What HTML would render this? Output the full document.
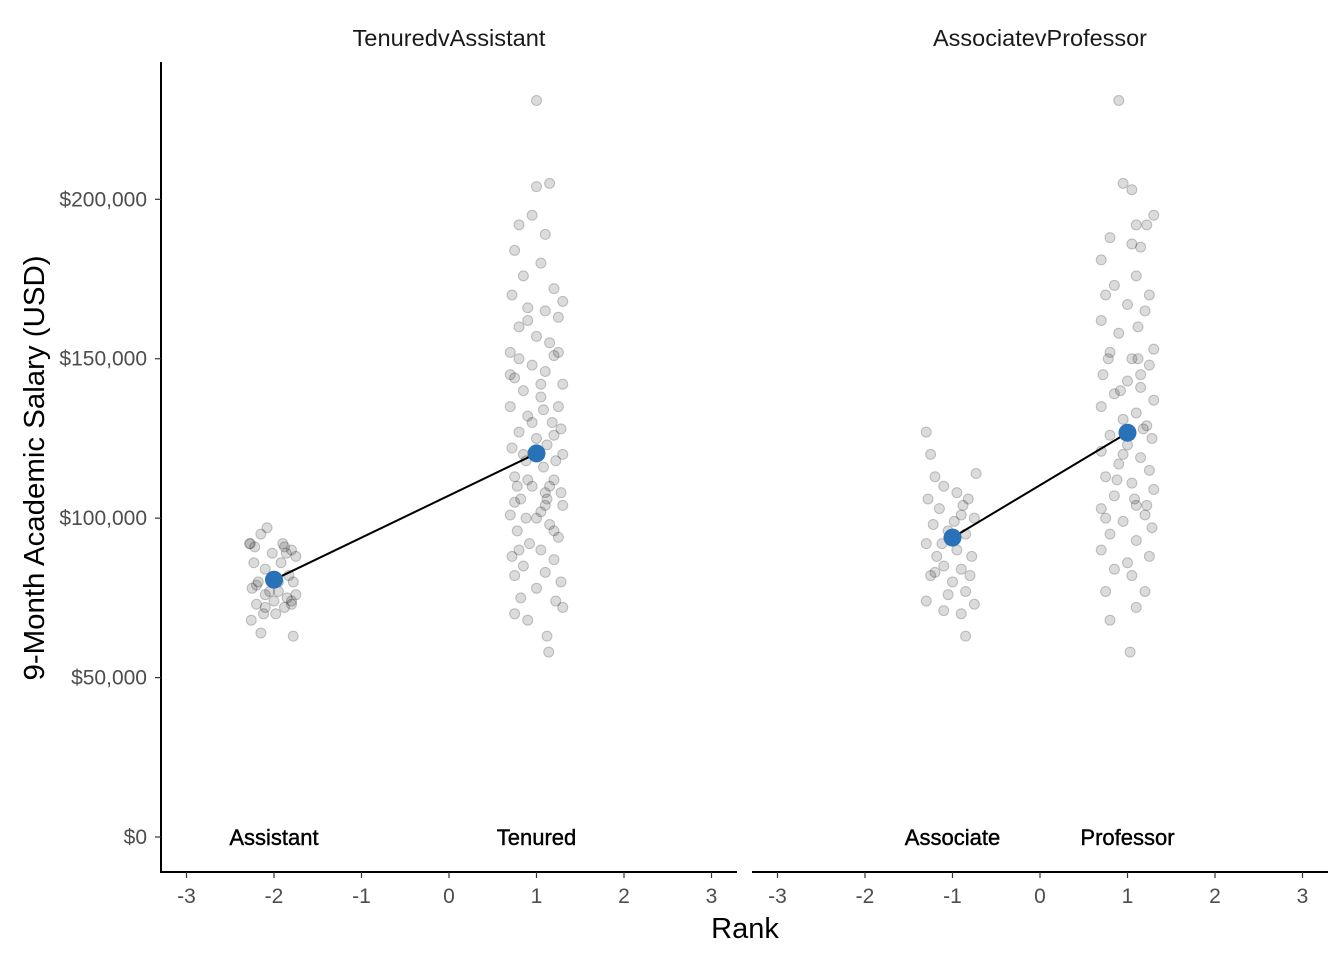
<!DOCTYPE html>
<html><head><meta charset="utf-8"><style>
body{margin:0;background:#fff;}
svg{display:block;font-family:"Liberation Sans",Arial,sans-serif;}
</style></head><body>
<svg id="chart" width="1344" height="960">
<text x="449" y="46" font-size="23" text-anchor="middle" fill="#1a1a1a" textLength="193" lengthAdjust="spacingAndGlyphs">TenuredvAssistant</text>
<text x="1040" y="46" font-size="23" text-anchor="middle" fill="#1a1a1a" textLength="214" lengthAdjust="spacingAndGlyphs">AssociatevProfessor</text>
<text transform="translate(44,468) rotate(-90)" font-size="29" text-anchor="middle" fill="#000" textLength="425" lengthAdjust="spacingAndGlyphs">9-Month Academic Salary (USD)</text>
<text x="745" y="938" font-size="29" text-anchor="middle" fill="#000">Rank</text>
<g id="layer"></g>
</svg>
<script>
const yTicks=[0,50000,100000,150000,200000];
const yTickLabels=["$0","$50,000","$100,000","$150,000","$200,000"];
const xTicks=[-3,-2,-1,0,1,2,3];
const panels=["TenuredvAssistant","AssociatevProfessor"];
const groupNames=[["Assistant","Tenured"],["Associate","Professor"]];
const groupX=[[-2,1],[-1,1]];
const groupMeans=[[80700,120300],[93900,126800]];
// jittered points: [x offset, salary in $k]
const assistantPts=[[-0.28,92],[-0.22,91],[-0.15,95],[-0.08,97],[0.1,92],[0.2,90],[0.25,88],[-0.25,78],[-0.18,80],[-0.1,84],[0.05,80],[0.15,75],[0.22,80],[-0.2,73],[-0.12,70],[0,74],[0.12,72],[0.2,73],[-0.26,68],[-0.15,64],[0.22,63],[-0.05,77],[0.08,86],[-0.02,89],[0.17,82],[-0.23,86],[0.02,70],[-0.1,76],[0.14,89],[0.25,76],[-0.27,92],[0.12,91],[-0.2,79],[0.05,77],[0.2,74],[-0.1,72]];
const tenuredPts=[[0,231],[0,204],[0.15,205],[-0.05,195],[-0.2,192],[0.1,189],[-0.25,184],[0.05,180],[0.2,172],[0.3,168],[-0.15,176],[-0.28,170],[0.1,165],[-0.1,166],[0.25,163],[-0.2,160],[0,157],[0.15,155],[-0.3,152],[0.2,151],[-0.05,148],[0.1,146],[-0.25,144],[0.3,142],[-0.15,140],[0.05,138],[0.25,135],[-0.3,135],[-0.1,132],[0.18,130],[0.28,128],[-0.2,127],[0,125],[0.12,123],[-0.28,122],[0.3,120],[-0.12,118],[0.08,116],[-0.25,113],[0.2,112],[-0.05,110],[0.28,108],[-0.18,106],[0.1,104],[0.3,104],[-0.3,101],[0,100],[0.15,98],[-0.22,96],[0.25,94],[-0.08,92],[0.05,90],[-0.28,88],[0.2,87],[-0.15,85],[0.1,83],[-0.25,82],[0.28,80],[0,78],[-0.18,75],[0.22,74],[-0.25,70],[0.3,72],[-0.1,68],[0.12,63],[0.14,58],[-0.1,112],[0.05,142],[-0.05,130],[0.2,96],[-0.2,150],[0.1,108],[-0.15,120],[0.22,118],[-0.25,105],[0.05,102],[-0.12,100],[0.15,110],[-0.2,90],[0.25,152],[-0.3,145],[0.08,134],[-0.1,162],[0.2,126],[-0.22,110],[0.12,106]];
const associatePts=[[-0.3,127],[-0.25,120],[0.27,114],[-0.2,113],[-0.1,110],[0.05,108],[0.18,106],[-0.28,106],[-0.15,103],[0.1,101],[0.25,100],[-0.22,98],[-0.05,96],[0.15,95],[-0.3,92],[0.05,90],[0.22,88],[-0.18,88],[-0.1,85],[0.1,84],[-0.25,82],[0.2,82],[0,80],[0.15,77],[-0.05,76],[-0.3,74],[0.25,73],[-0.1,71],[0.1,70],[0.15,63],[-0.2,83],[0.12,104],[-0.12,92],[0.02,99]];
const professorPts=[[-0.1,231],[-0.05,205],[0.05,203],[0.3,195],[0.1,192],[0.22,192],[-0.2,188],[0.05,186],[0.15,185],[-0.3,181],[-0.15,173],[0.1,176],[0.25,170],[-0.25,170],[0,167],[0.2,165],[-0.3,162],[0.12,160],[-0.1,158],[0.3,153],[-0.2,152],[0.05,150],[0.25,148],[-0.28,145],[0,143],[0.15,141],[-0.15,139],[0.3,137],[-0.3,135],[0.1,133],[-0.05,131],[0.22,129],[-0.2,126],[0.28,125],[0,123],[-0.3,121],[0.15,119],[-0.1,117],[0.25,115],[-0.25,113],[0.05,111],[0.3,109],[-0.15,107],[0.1,104],[-0.3,103],[0.2,101],[-0.05,99],[0.28,97],[-0.2,95],[0.1,93],[-0.3,90],[0.25,88],[0,86],[-0.15,84],[0.05,82],[-0.25,77],[0.2,77],[-0.2,68],[0.1,72],[0.03,58],[0.15,145],[-0.08,140],[-0.22,150],[0.18,128],[-0.12,112],[0.08,106],[-0.25,100],[0.22,104],[-0.05,120],[0.12,150]];
const panelPts=[[assistantPts,tenuredPts],[associatePts,professorPts]];
const ns="http://www.w3.org/2000/svg";
const layer=document.getElementById('layer');
const panelX0=[449,1040];
const unit=87.5;
function xScale(p,v){return panelX0[p]+v*unit;}
function yScale(v){return 837-v*0.0031884;}
function mk(tag,attrs,parent){const e=document.createElementNS(ns,tag);for(const k in attrs)e.setAttribute(k,attrs[k]);(parent||layer).appendChild(e);return e;}
const yAxis=mk('line',{x1:161,x2:161,y1:62,y2:873,stroke:'#000','stroke-width':2});


yTicks.forEach((t,i)=>{
  const tk=mk('line',{x1:155,x2:161,y1:yScale(t),y2:yScale(t),stroke:'#333','stroke-width':1.2});
  
  
  const lb=mk('text',{x:147,y:yScale(t)+7,'font-size':21,'text-anchor':'end',fill:'#4d4d4d'});
  lb.textContent=yTickLabels[i];
  
  
});
panels.forEach((pn,p)=>{
  const xa=mk('line',{x1:p?752:160,x2:p?1328:737,y1:872,y2:872,stroke:'#000','stroke-width':2});
  
  
  xTicks.forEach(t=>{
    const tk=mk('line',{x1:xScale(p,t),x2:xScale(p,t),y1:872,y2:878,stroke:'#333','stroke-width':1.2});
    
    
    const lb=mk('text',{x:xScale(p,t),y:903,'font-size':21,'text-anchor':'middle',fill:'#4d4d4d'});
    lb.textContent=String(t);
    
    
  });
  for(let g=0;g<2;g++){
    panelPts[p][g].forEach(pt=>{
      const c=mk('circle',{cx:xScale(p,groupX[p][g]+pt[0]),cy:yScale(pt[1]*1000),r:5,fill:'rgba(0,0,0,0.14)',stroke:'rgba(0,0,0,0.22)','stroke-width':1});
      
      
    });
    const lb=mk('text',{x:xScale(p,groupX[p][g]),y:845,'font-size':22,'text-anchor':'middle',fill:'#000','stroke':'#000','stroke-width':0.4});
    lb.textContent=groupNames[p][g];
    
    
  }
  const ln=mk('line',{x1:xScale(p,groupX[p][0]),y1:yScale(groupMeans[p][0]),x2:xScale(p,groupX[p][1]),y2:yScale(groupMeans[p][1]),stroke:'#000','stroke-width':2});
  
  
  for(let g=0;g<2;g++){
    const m=mk('circle',{cx:xScale(p,groupX[p][g]),cy:yScale(groupMeans[p][g]),r:9,fill:'#2a72b8'});
    
    
  }
});
</script>
</body></html>
